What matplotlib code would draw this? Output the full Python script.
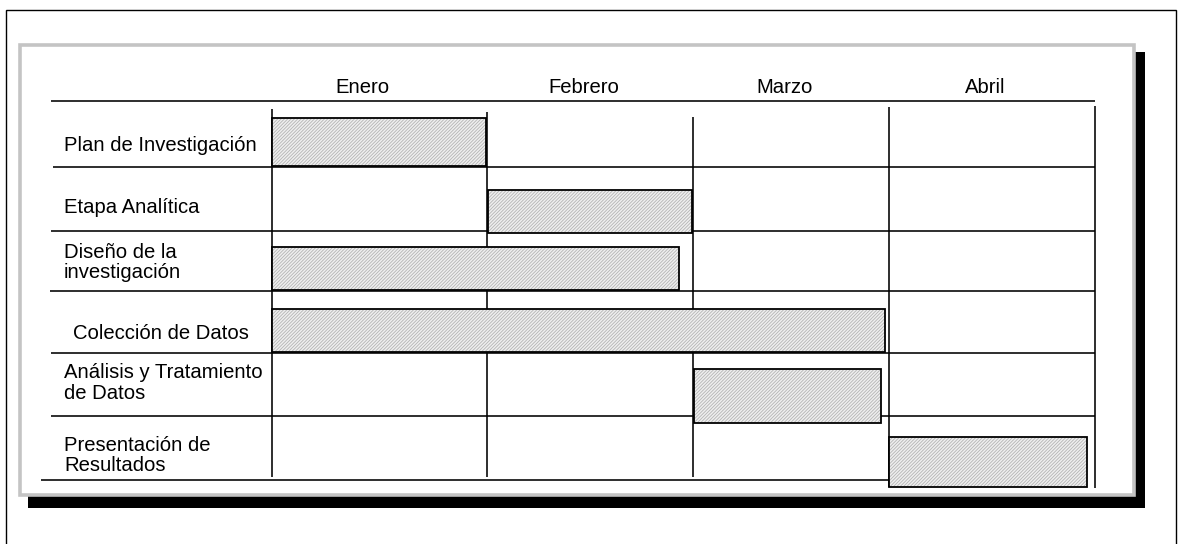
import matplotlib
matplotlib.use("Agg")
import matplotlib.pyplot as plt
from matplotlib.patches import Rectangle

# ---------------- data ----------------
months = ["Enero", "Febrero", "Marzo", "Abril"]
tasks = ["Plan de Investigación", "Etapa Analítica", "Diseño de la\ninvestigación",
         "Colección de Datos", "Análisis y Tratamiento\nde Datos", "Presentación de\nResultados"]
# start / end in months (0 = start of Enero)
task_start = [0.00, 1.05, 0.00, 0.00, 2.05, 3.00]
task_end = [1.04, 2.04, 1.98, 2.98, 2.96, 3.96]

# ---------------- layout (not data) ----------------
W, H = 1178, 544
PX0, PXM = 272, 205.75     # pixel of month 0 and pixels per month
PY0, PYR = 100, 63.333     # pixel of row 0 and pixels per row
def mx(px): return (px - PX0) / PXM
def ry(py): return (py - PY0) / PYR

bar_top = [118, 190, 247, 309, 369, 437]
bar_bot = [166, 233, 290, 352, 423, 487]
label_x = [64, 64, 64, 73, 64, 64]
label_y = [145, 207, 262.5, 333, 383, 455.5]
month_lbl_x = [362, 584, 785, 985]
month_lbl_y = 87
# horizontal table rules: (y, x_left, x_right)
hrules = [(101, 51, 1095), (166.5, 53, 1095), (230.5, 51, 1095), (291, 50, 1095),
          (353, 51, 1095), (415.5, 51, 1095), (480, 41, 889)]
# vertical table rules: (x, y_top, y_bottom)
vrules = [(272, 109, 477), (487, 112, 477), (693, 117, 477), (889, 107, 487), (1095, 106, 488)]

plt.rcParams['font.family'] = ['Liberation Sans', 'DejaVu Sans']
plt.rcParams['hatch.linewidth'] = 0.6
FS = 14.6

fig = plt.figure(figsize=(W / 100, H / 100), dpi=100)
fig.patch.set_facecolor('white')

# background frames axes in pixel units
bg = fig.add_axes([0, 0, 1, 1])
bg.set_xlim(0, W)
bg.set_ylim(H, 0)
bg.axis('off')
# outer thin frame (bottom edge outside picture)
bg.plot([6, 6, 1176, 1176], [H + 5, 10, 10, H + 5], color='black', lw=1.0, solid_joinstyle='miter')
# black shadow
bg.add_patch(Rectangle((1134, 52), 10.5, 456, facecolor='black', edgecolor='none'))
bg.add_patch(Rectangle((28, 496), 1116.5, 12, facecolor='black', edgecolor='none'))
# grey framed panel
bg.add_patch(Rectangle((20, 45), 1114, 450, facecolor='white', edgecolor='#c4c4c4', lw=2.6,
                       joinstyle='miter'))

# main axes in month / row units
ax = fig.add_axes([0, 0, 1, 1])
ax.patch.set_alpha(0)
ax.set_xlim(mx(0), mx(W))
ax.set_ylim(ry(H), ry(0))
ax.axis('off')

LW = 1.15
for y, x0, x1 in hrules:
    ax.plot([mx(x0), mx(x1)], [ry(y), ry(y)], color='black', lw=LW, solid_capstyle='butt', zorder=1)
for x, y0, y1 in vrules:
    ax.plot([mx(x), mx(x)], [ry(y0), ry(y1)], color='black', lw=LW, solid_capstyle='butt', zorder=1)

# bars
starts = task_start
widths = [e - s for s, e in zip(task_start, task_end)]
centers = [(ry(t) + ry(b)) / 2 for t, b in zip(bar_top, bar_bot)]
heights = [ry(b) - ry(t) for t, b in zip(bar_top, bar_bot)]
ax.barh(centers, widths, left=starts, height=heights, color='#efefef', edgecolor='#b4b4b4',
        hatch='//////////', linewidth=0, zorder=2)
ax.barh(centers, widths, left=starts, height=heights, fill=False, edgecolor='black',
        linewidth=1.3, zorder=3)

# labels
for name, x, y in zip(tasks, label_x, label_y):
    ax.text(mx(x), ry(y), name, ha='left', va='center', fontsize=FS, linespacing=1.1, zorder=4)
for name, x in zip(months, month_lbl_x):
    ax.text(mx(x), ry(month_lbl_y), name, ha='center', va='center', fontsize=FS, zorder=4)

fig.savefig("out.png", dpi=100, facecolor='white')
